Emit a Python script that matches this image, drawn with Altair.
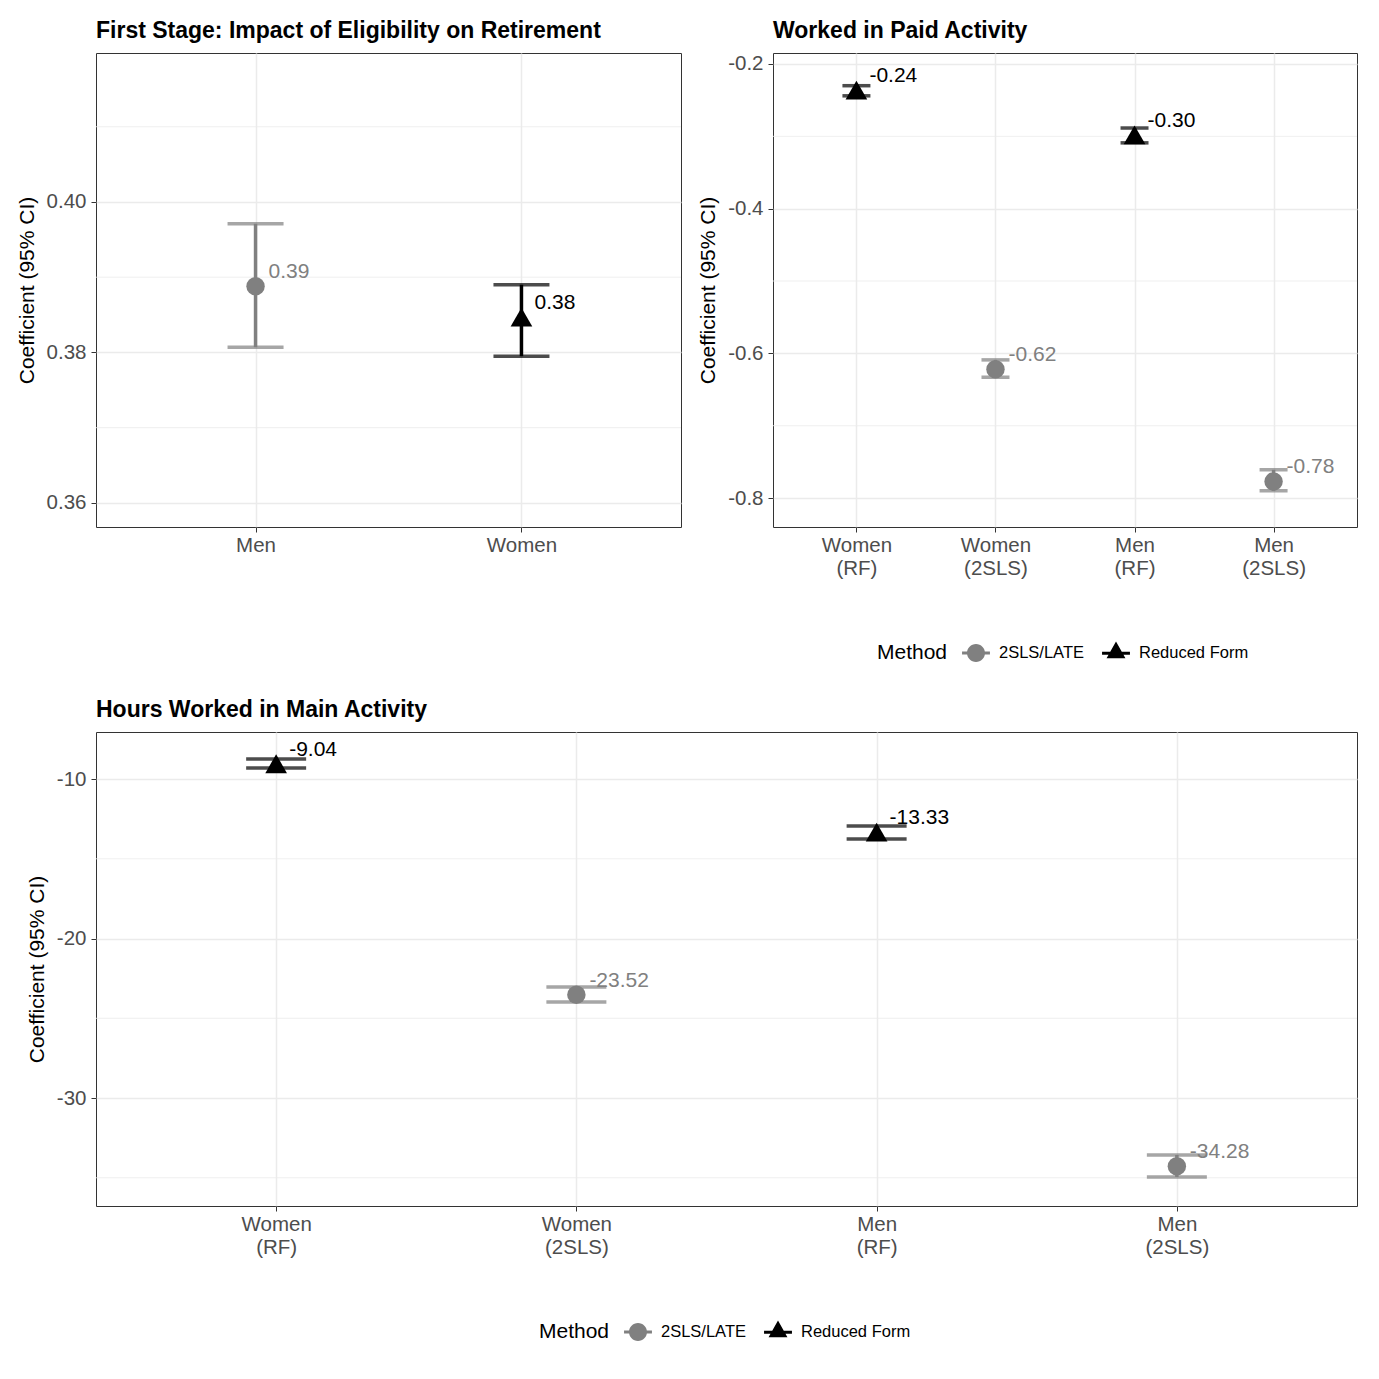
import altair as alt
import pandas as pd

METHODS = ["2SLS/LATE", "Reduced Form"]
COLORS = ["#808080", "#000000"]
# legend keys: point with a short horizontal line through it (as in the source figure)
KEY_SHAPES = [
    "M-1,0 A1,1 0 1,1 1,0 A1,1 0 1,1 -1,0 Z M-1.55,-0.17 L1.55,-0.17 L1.55,0.17 L-1.55,0.17 Z",
    "M0,-1.3 L1.05,0.55 L-1.05,0.55 Z M-1.55,-0.17 L1.55,-0.17 L1.55,0.17 L-1.55,0.17 Z",
]

# Panel 1: First stage
p1_groups = ["Men", "Women"]
p1_method = ["2SLS/LATE", "Reduced Form"]
p1_est = [0.3888, 0.3847]
p1_lo = [0.3807, 0.3795]
p1_hi = [0.3971, 0.3890]
p1_label = ["0.39", "0.38"]
p1_ticks = [0.36, 0.38, 0.40]
p1_minor = [0.37, 0.39, 0.41]
p1_domain = [0.3568, 0.4198]

# Panel 2: Worked in paid activity
p2_groups = ["Women (RF)", "Women (2SLS)", "Men (RF)", "Men (2SLS)"]
p2_method = ["Reduced Form", "2SLS/LATE", "Reduced Form", "2SLS/LATE"]
p2_est = [-0.236, -0.622, -0.298, -0.777]
p2_lo = [-0.244, -0.633, -0.309, -0.790]
p2_hi = [-0.230, -0.609, -0.2885, -0.761]
p2_label = ["-0.24", "-0.62", "-0.30", "-0.78"]
p2_ticks = [-0.8, -0.6, -0.4, -0.2]
p2_minor = [-0.7, -0.5, -0.3]
p2_domain = [-0.840, -0.1848]

# Panel 3: Hours worked
p3_groups = ["Women (RF)", "Women (2SLS)", "Men (RF)", "Men (2SLS)"]
p3_method = ["Reduced Form", "2SLS/LATE", "Reduced Form", "2SLS/LATE"]
p3_est = [-9.04, -23.52, -13.33, -34.28]
p3_lo = [-9.31, -23.98, -13.76, -34.95]
p3_hi = [-8.75, -23.04, -12.95, -33.57]
p3_label = ["-9.04", "-23.52", "-13.33", "-34.28"]
p3_ticks = [-30, -20, -10]
p3_minor = [-35, -25, -15]
p3_domain = [-36.77, -7.05]

FONT = "Liberation Sans, Arial, sans-serif"


def panel(groups, method, est, lo, hi, label, ticks, minor, domain, fmt,
          width, cap, title, legend_xy):
    df = pd.DataFrame({"group": groups, "method": method, "est": est,
                       "lo": lo, "hi": hi, "label": label})
    mdf = pd.DataFrame({"m": minor})
    xs = alt.X("group:N", sort=groups, title=None,
               scale=alt.Scale(type="point", padding=0.6),
               axis=alt.Axis(labelExpr="split(datum.label, ' ')", labelAngle=0,
                             labelLineHeight=23, labelPadding=3, tickSize=5,
                             grid=True))
    yscale = alt.Scale(domain=domain, nice=False, zero=False)
    sc = alt.Scale(domain=METHODS, range=COLORS)
    fill = alt.Fill("method:N", scale=sc, legend=None)
    stroke = alt.Stroke("method:N", scale=sc, legend=None)

    minor_grid = alt.Chart(mdf).mark_rule(color="#ebebeb", strokeWidth=0.8).encode(
        y=alt.Y("m:Q", scale=yscale))
    base = alt.Chart(df).encode(x=xs)
    yaxis = alt.Axis(values=ticks, title="Coefficient (95% CI)",
                     labelExpr="replace(format(datum.value, '%s'), '\u2212', '-')" % fmt,
                     grid=True, tickSize=5, labelPadding=5, titlePadding=9)
    bars = base.mark_rule(strokeWidth=3.5).encode(
        y=alt.Y("lo:Q", scale=yscale, axis=yaxis), y2="hi:Q", stroke=stroke)
    cap_lo = base.mark_tick(thickness=3.5, size=cap).encode(
        y=alt.Y("lo:Q", scale=yscale), fill=fill)
    cap_hi = base.mark_tick(thickness=3.5, size=cap).encode(
        y=alt.Y("hi:Q", scale=yscale), fill=fill)
    circ = base.transform_filter(alt.datum.method == METHODS[0]).mark_point(
        filled=True, size=340, opacity=1, shape="circle").encode(
        y=alt.Y("est:Q", scale=yscale), fill=fill)
    tri = base.transform_filter(alt.datum.method == METHODS[1]).mark_point(
        filled=True, size=470, opacity=1, shape="triangle-up").encode(
        y=alt.Y("est:Q", scale=yscale), fill=fill)
    txt = base.mark_text(align="left", baseline="middle", dx=13, dy=-14,
                         fontSize=21, font=FONT).encode(
        y=alt.Y("est:Q", scale=yscale), text="label:N", fill=fill)
    layers = [minor_grid, bars, cap_lo, cap_hi, circ, tri, txt]
    if legend_xy is not None:
        leg = alt.Legend(title="Method", orient="none", legendX=legend_xy[0],
                         legendY=legend_xy[1], direction="horizontal",
                         titleOrient="left", titleFontSize=21,
                         titleFontWeight="normal", titleColor="black",
                         titlePadding=19, labelFontSize=16.5, labelColor="black",
                         labelOffset=14, columnPadding=18, symbolSize=324,
                         symbolStrokeWidth=0, symbolOpacity=1,
                         titleFont=FONT, labelFont=FONT)
        key = alt.Chart(df).transform_filter("false").mark_point(
            filled=True, opacity=1).encode(
            color=alt.Color("method:N", scale=alt.Scale(domain=METHODS, range=COLORS),
                            legend=leg),
            shape=alt.Shape("method:N",
                            scale=alt.Scale(domain=METHODS, range=KEY_SHAPES),
                            legend=leg))
        layers.append(key)
    return alt.layer(*layers).properties(
        width=width, height=474,
        title=alt.TitleParams(title, anchor="start", frame="group", fontSize=23,
                              fontWeight="bold", font=FONT, color="black",
                              offset=10))


p1 = panel(p1_groups, p1_method, p1_est, p1_lo, p1_hi, p1_label, p1_ticks,
           p1_minor, p1_domain, ".2f", 585, 56,
           "First Stage: Impact of Eligibility on Retirement", None)
p2 = panel(p2_groups, p2_method, p2_est, p2_lo, p2_hi, p2_label, p2_ticks,
           p2_minor, p2_domain, ".1f", 584, 28, "Worked in Paid Activity",
           (104, 591))
p3 = panel(p3_groups, p3_method, p3_est, p3_lo, p3_hi, p3_label, p3_ticks,
           p3_minor, p3_domain, "d", 1261, 60, "Hours Worked in Main Activity",
           (443, 591))

top = alt.hconcat(p1, p2, spacing=15).resolve_scale(
    color="independent", shape="independent").resolve_legend(
    color="independent", shape="independent")

chart = alt.vconcat(top, p3, spacing=34).resolve_scale(
    color="independent", shape="independent").resolve_legend(
    color="independent", shape="independent").properties(
    padding={"left": 7, "top": 11, "right": 4, "bottom": 5}
).configure(font=FONT).configure_view(
    stroke="#333333", strokeWidth=1
).configure_axis(
    domain=False, tickColor="#333333", labelColor="#4d4d4d", labelFontSize=20.5,
    labelFont=FONT, titleFont=FONT, titleFontSize=21, titleFontWeight="normal",
    titleColor="black", gridColor="#ebebeb", gridWidth=1.5
)

chart.save("out.html", embed_options={"renderer": "svg", "actions": False})
